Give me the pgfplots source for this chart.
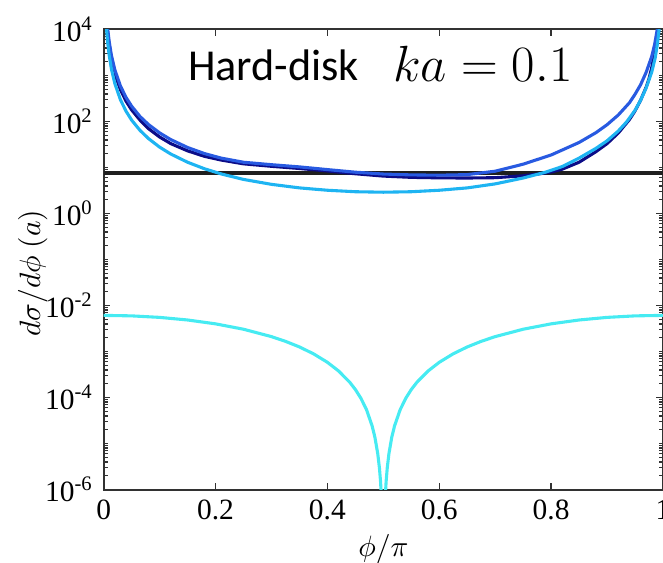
\documentclass[border=0pt]{standalone}
\usepackage[no-math]{fontspec}
\setmainfont{Liberation Serif}
\newfontfamily\carlito{Carlito}
\usepackage{pgfplots}
\pgfplotsset{compat=1.18}

\definecolor{navyline}{RGB}{12,12,135}
\definecolor{royalline}{RGB}{40,90,225}
\definecolor{skyline}{RGB}{30,180,242}
\definecolor{aqualine}{RGB}{70,235,242}
\definecolor{axisgray}{RGB}{50,50,50}

% minor log ticks 2..9 in every decade
\def\minorticks{}
\foreach \e in {-6,...,3}{\foreach \m in {2,...,9}{\xdef\minorticks{\minorticks\m e\e,}}}

\begin{document}
\begin{tikzpicture}
\begin{axis}[
  scale only axis, width=189.9pt, height=156.2pt,
  xmin=0, xmax=1, ymin=1e-6, ymax=1e4, ymode=log,
  xtick={0,0.2,0.4,0.6,0.8,1},
  ytick={1e-6,1e-4,1e-2,1,1e2,1e4},
  yticklabels={10\textsuperscript{-6},10\textsuperscript{-4},10\textsuperscript{-2},10\textsuperscript{0},10\textsuperscript{2},10\textsuperscript{4}},
  minor ytick/.expanded={\minorticks 1e-5,1e-3,1e-1,1e1,1e3},
  /pgf/number format/assume math mode=true,
  axis line style={axisgray, line width=0.7pt},
  tick style={axisgray, line width=0.5pt},
  major tick length=2.3pt, minor tick length=1.3pt,
  tick align=inside,
  xlabel={$\phi/\pi$},
  ylabel={$d\sigma/d\phi\ (a)$},
  xlabel style={at={(axis description cs:0.5,-0.129)}, anchor=center},
  ylabel style={at={(axis description cs:-0.127,0.47)}, anchor=center},
  every axis plot/.append style={line width=1.05pt},
]
% total cross section
\addplot[black!88] coordinates {(0,7.6) (1,7.6)};

\addplot[navyline] coordinates {
(0.007,8900)(0.010,4360)(0.014,2230)(0.02,1090)(0.03,488)(0.04,276)(0.05,178)
(0.065,107)(0.08,70)(0.10,46)(0.12,33)(0.15,23)(0.18,17.5)(0.21,14.5)(0.25,12)
(0.30,10.6)(0.35,9.5)(0.40,8.4)(0.45,7.3)(0.50,6.5)(0.55,6.1)(0.60,5.95)(0.65,5.9)
(0.70,6.0)(0.75,6.6)(0.78,7.3)(0.80,8.0)(0.82,9.2)(0.85,13)(0.88,22)(0.90,33)
(0.92,56)(0.94,110)(0.95,170)(0.96,290)(0.97,560)(0.975,850)(0.98,1500)
(0.985,3200)(0.99,8500)(0.993,17000)};

\addplot[royalline] coordinates {
(0.007,10600)(0.010,5270)(0.014,2690)(0.02,1320)(0.03,590)(0.04,333)(0.05,215)
(0.065,128)(0.08,86)(0.10,56.5)(0.12,40.4)(0.15,27.2)(0.18,20.1)(0.21,16)(0.25,13)
(0.30,11.5)(0.35,10.3)(0.40,9.0)(0.45,7.9)(0.50,7.2)(0.55,6.9)(0.60,6.8)(0.65,7.0)
(0.70,8.3)(0.75,11.8)(0.80,18.7)(0.82,24)(0.85,35)(0.88,57)(0.90,85)(0.92,138)
(0.94,255)(0.95,390)(0.96,630)(0.97,1180)(0.975,1750)(0.98,2640)(0.985,4700)
(0.99,10500)(0.993,21000)};

\addplot[skyline] coordinates {
(0.005,10600)(0.007,5420)(0.010,2660)(0.014,1355)(0.02,665)(0.03,296)(0.04,167)
(0.05,107)(0.065,64)(0.08,42.6)(0.10,27.7)(0.12,19.6)(0.15,13.0)(0.18,9.4)
(0.21,7.25)(0.25,5.5)(0.30,4.3)(0.35,3.6)(0.40,3.2)(0.45,2.97)(0.50,2.9)(0.55,2.97)
(0.60,3.2)(0.65,3.6)(0.70,4.4)(0.75,5.9)(0.79,7.9)(0.82,10.5)(0.85,16)(0.88,26)
(0.90,38)(0.92,62)(0.935,98)(0.95,175)(0.96,290)(0.97,540)(0.98,1200)(0.986,2400)
(0.99,4800)(0.993,9800)(0.995,19000)};

\addplot[aqualine] coordinates {
(0,0.0061)(0.05,0.005951)(0.1,0.005518)(0.15,0.004843)(0.2,0.003993)(0.25,0.00305)
(0.3,0.002107)(0.325,0.001665)(0.35,0.001257)(0.375,0.0008933)(0.4,0.0005825)
(0.42,0.0003773)(0.44,0.0002142)(0.45,0.0001493)(0.46,9.582e-5)(0.47,5.402e-5)
(0.48,2.405e-5)(0.485,1.354e-5)(0.49,6.019e-6)(0.493,2.950e-6)(0.495,1.505e-6)
(0.497,5.418e-7)(0.498,2.408e-7)(0.499,6.02e-8)
(0.501,6.02e-8)(0.502,2.408e-7)(0.503,5.418e-7)(0.505,1.505e-6)(0.507,2.950e-6)
(0.51,6.019e-6)(0.515,1.354e-5)(0.52,2.405e-5)(0.53,5.402e-5)(0.54,9.582e-5)
(0.55,0.0001493)(0.56,0.0002142)(0.58,0.0003773)(0.6,0.0005825)(0.625,0.0008933)
(0.65,0.001257)(0.675,0.001665)(0.7,0.002107)(0.75,0.00305)(0.8,0.003993)
(0.85,0.004843)(0.9,0.005518)(0.95,0.005951)(1,0.0061)};

\node[anchor=base west, inner sep=0pt, font=\carlito\fontsize{15}{18}\selectfont]
  at (axis description cs:0.150,0.890) {Hard-disk};
\node[anchor=base east, inner sep=0pt, font=\fontsize{16.5}{19}\selectfont]
  at (axis description cs:0.839,0.886) {$ka=0.1$};
\node[anchor=center, font=\fontsize{10.5}{12}\selectfont]
  at (axis description cs:-0.130,1.018) {c)};

\coordinate (sw) at (rel axis cs:0,0);
\coordinate (ne) at (rel axis cs:1,1);
\end{axis}
\pgfresetboundingbox
\useasboundingbox ([shift={(-35.2pt,-24.9pt)}]sw) rectangle ([shift={(0pt,10pt)}]ne);
\end{tikzpicture}
\end{document}
